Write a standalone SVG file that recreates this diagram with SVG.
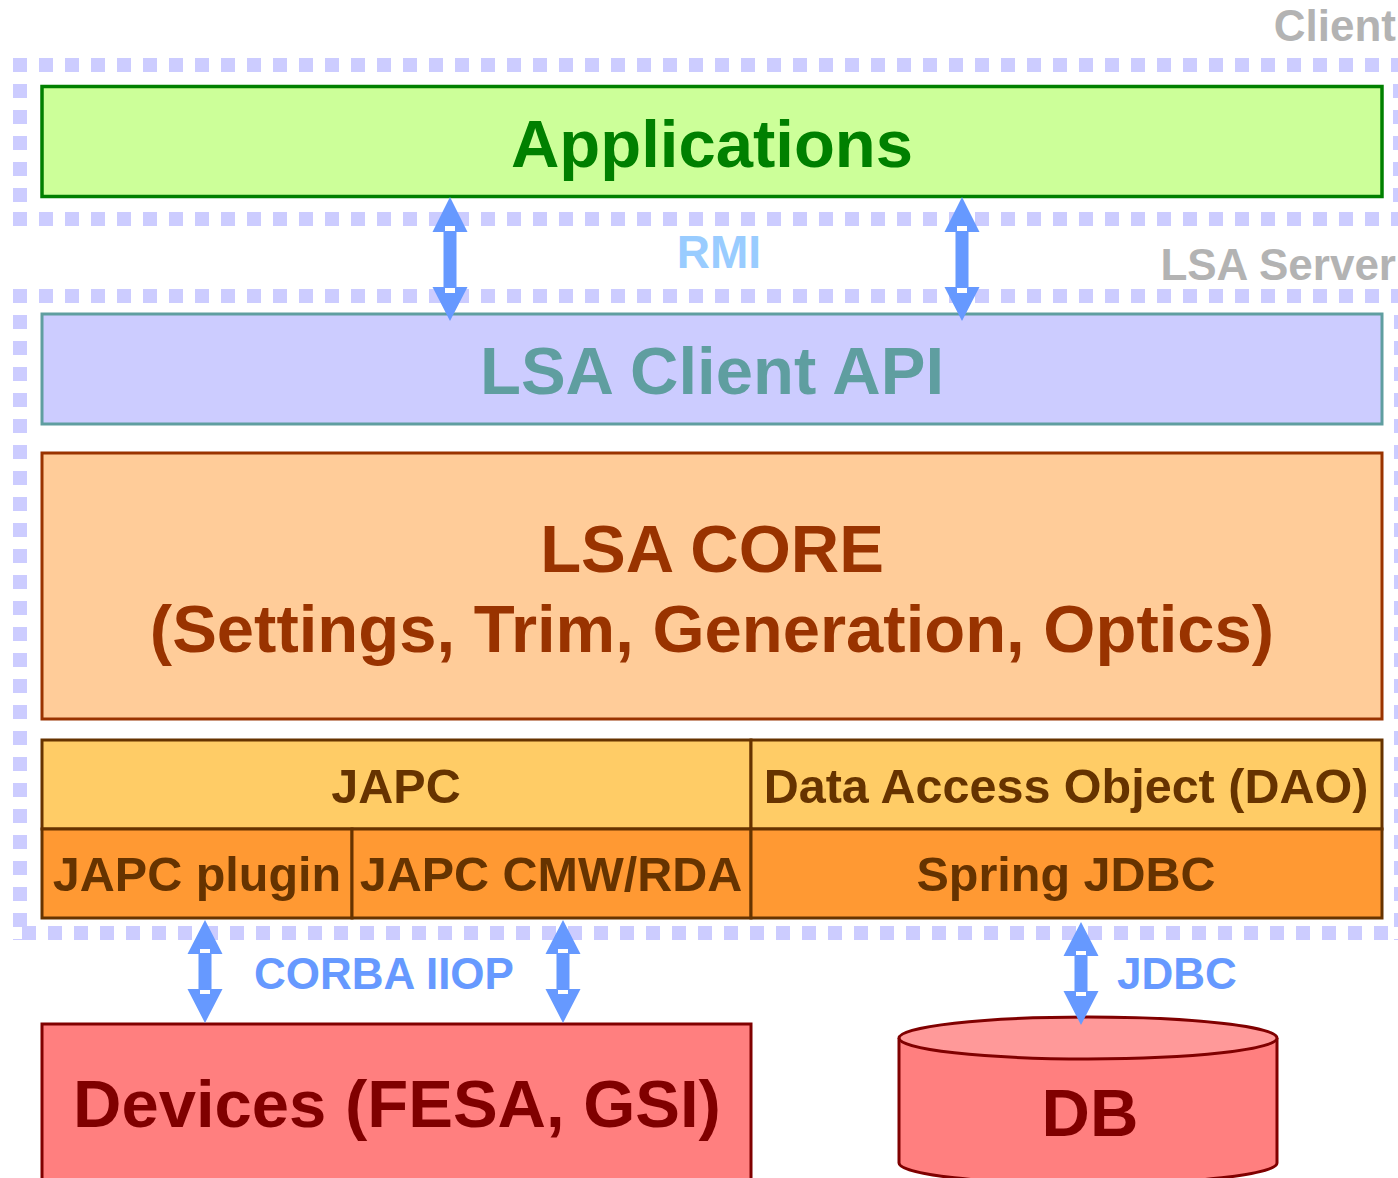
<svg xmlns="http://www.w3.org/2000/svg" width="1398" height="1178" viewBox="0 0 1398 1178">
<style>
text{font-family:"Liberation Sans",Arial,sans-serif;font-weight:bold;text-anchor:middle}
.dash{stroke:#ccccff;stroke-width:14;stroke-dasharray:14 12;fill:none}
.zone{fill:#b3b3b3;font-size:44px;text-anchor:end}
.proto{fill:#6699ff;font-size:44px;text-anchor:start}
.arrow{fill:#6699ff}
.mark{fill:#ffffff}
.big{font-size:67px}
.mid{font-size:48.5px;fill:#663300}
.japc{fill:#ffcc66;stroke:#663300;stroke-width:3}
.sub{fill:#ff9933;stroke:#663300;stroke-width:3}
</style>
<defs>
<g id="dbl">
<polygon points="0,0 17.5,35 6.5,35 6.5,90 17.5,90 0,124 -17.5,90 -6.5,90 -6.5,35 -17.5,35"/>
<rect class="mark" x="-5" y="29" width="10" height="5"/>
<rect class="mark" x="-5" y="91" width="10" height="5"/>
</g>
<g id="dbls">
<polygon points="0,0 17.5,34 6.5,34 6.5,69 17.5,69 0,103 -17.5,69 -6.5,69 -6.5,34 -17.5,34"/>
<rect class="mark" x="-5" y="29" width="10" height="4"/>
<rect class="mark" x="-5" y="70" width="10" height="4"/>
</g>
</defs>

<g id="zone-client">
<line class="dash" x1="13" y1="65" x2="1400" y2="65"/>
<line class="dash" x1="13" y1="219" x2="1400" y2="219"/>
<line class="dash" x1="20" y1="58" x2="20" y2="226"/>
<line class="dash" x1="1400" y1="58" x2="1400" y2="226"/>
<text class="zone" x="1396" y="41">Client</text>
</g>

<g id="zone-server">
<line class="dash" x1="13" y1="296" x2="1400" y2="296"/>
<line class="dash" x1="22" y1="933" x2="1400" y2="933"/>
<line class="dash" x1="20" y1="289" x2="20" y2="940"/>
<line class="dash" x1="1401" y1="289" x2="1401" y2="940"/>
<text class="zone" x="1396" y="280">LSA Server</text>
</g>

<g id="applications">
<rect x="42" y="86.5" width="1340" height="110" fill="#ccff99" stroke="#008000" stroke-width="3.5"/>
<text class="big" x="712" y="167" fill="#008000">Applications</text>
</g>

<g id="client-api">
<rect x="42" y="314" width="1340" height="110" fill="#ccccff" stroke="#5f9ea0" stroke-width="3"/>
<text class="big" x="712" y="394" fill="#5f9ea0">LSA Client API</text>
</g>

<g id="core">
<rect x="42" y="453" width="1340" height="266" fill="#ffcc99" stroke="#993300" stroke-width="3"/>
<text class="big" x="712" y="572" fill="#993300">LSA CORE</text>
<text class="big" x="712" y="652" fill="#993300">(Settings, Trim, Generation, Optics)</text>
</g>

<g id="japc">
<rect class="japc" x="42" y="740" width="709" height="89"/>
<text class="mid" x="396" y="803">JAPC</text>
</g>
<g id="dao">
<rect class="japc" x="751" y="740" width="631" height="89"/>
<text class="mid" x="1066" y="803">Data Access Object (DAO)</text>
</g>
<g id="japc-plugin">
<rect class="sub" x="42" y="829" width="310" height="89"/>
<text class="mid" x="197" y="891">JAPC plugin</text>
</g>
<g id="japc-cmw">
<rect class="sub" x="352" y="829" width="399" height="89"/>
<text class="mid" x="551" y="891">JAPC CMW/RDA</text>
</g>
<g id="spring-jdbc">
<rect class="sub" x="751" y="829" width="631" height="89"/>
<text class="mid" x="1066" y="891">Spring JDBC</text>
</g>

<g id="devices">
<rect x="42" y="1024" width="709" height="170" fill="#ff7f7f" stroke="#800000" stroke-width="3"/>
<text class="big" x="397" y="1127" fill="#800000">Devices (FESA, GSI)</text>
</g>

<g id="db">
<path d="M899,1038 V1163 A189,21 0 0 0 1277,1163 V1038" fill="#ff7f7f" stroke="#800000" stroke-width="3"/>
<ellipse cx="1088" cy="1038" rx="189" ry="21" fill="#ff9999" stroke="#800000" stroke-width="3"/>
<text class="big" x="1090" y="1136" fill="#800000">DB</text>
</g>

<g id="connectors">
<use href="#dbl" class="arrow" x="450" y="197"/>
<use href="#dbl" class="arrow" x="962" y="197"/>
<text x="719" y="268" font-size="46" fill="#99ccff">RMI</text>
<use href="#dbls" class="arrow" x="205" y="920"/>
<use href="#dbls" class="arrow" x="563" y="920"/>
<text class="proto" x="254" y="989">CORBA IIOP</text>
<use href="#dbls" class="arrow" x="1081" y="922"/>
<text class="proto" x="1117" y="989">JDBC</text>
</g>
</svg>
